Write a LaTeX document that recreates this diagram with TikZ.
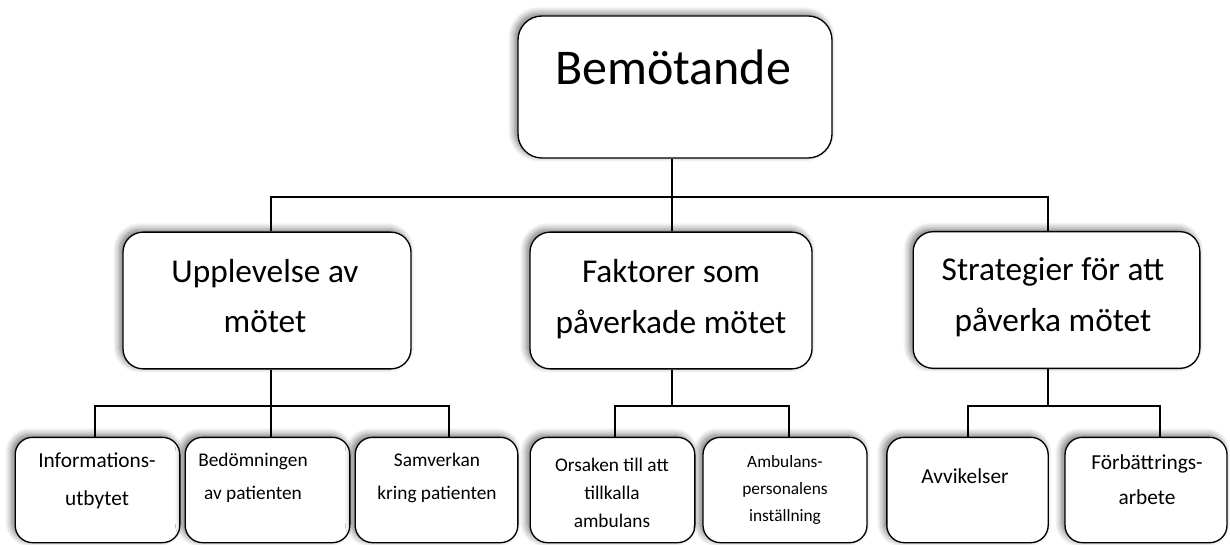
\documentclass[tikz,border=0pt]{standalone}
\usepackage{fontspec}
\setmainfont{Carlito}
\usetikzlibrary{shadows.blur}

\tikzset{
  box/.style={draw=black, line width=1pt, fill=white, inner sep=0pt,
    blur shadow={shadow xshift=-2.5pt, shadow yshift=2pt, shadow blur radius=5pt, shadow blur steps=8, shadow opacity=55}},
  topbox/.style={box, rounded corners=18pt, minimum width=235.5pt, minimum height=106.5pt},
  midbox/.style={box, rounded corners=15pt, minimum height=102.5pt},
  lowbox/.style={box, rounded corners=13pt, minimum height=79pt},
  link/.style={draw=black, line width=1.1pt},
}

\begin{document}
\begin{tikzpicture}[x=0.75pt,y=0.75pt,yscale=-1,xscale=1]
\useasboundingbox (0,0) rectangle (1230,545);

% Junctions of the connectors
\coordinate (j0) at (672,197);
\coordinate (j1) at (271,406);
\coordinate (j2) at (672,406);
\coordinate (j3) at (1048,406);

%Shape: Rounded Rect (top)
\node[topbox] (bem) at (675,87) {};
%Shape: Rounded Rect (level 2)
\node[midbox, minimum width=216pt] (upp) at (267,300.5) {};
\node[midbox, minimum width=211.5pt] (fak) at (671,300.5) {};
\node[midbox, minimum width=215pt] (str) at (1056.5,300) {};
%Shape: Rounded Rect (level 3)
\node[lowbox, minimum width=123.5pt] (info) at (97.5,490) {};
\node[lowbox, minimum width=123.5pt] (bed) at (267.5,490) {};
\node[lowbox, minimum width=122pt] (sam) at (436.5,490) {};
\node[lowbox, minimum width=123.5pt] (ors) at (612.5,490) {};
\node[lowbox, minimum width=123pt] (amb) at (785,490) {};
\node[lowbox, minimum width=121pt] (avv) at (967.5,490) {};
\node[lowbox, minimum width=121.5pt] (forb) at (1146,490) {};

%Straight Lines
\draw[link] (bem.south -| j0) -- (j0);
\draw[link] (upp.north -| j1) |- (j0) -| (str.north -| j3);
\draw[link] (j0) -- (j0 |- fak.north);
%Straight Lines
\draw[link] (upp.south -| j1) -- (j1);
\draw[link] (info.north -| 95,0) |- (j1) -| (sam.north -| 449,0);
\draw[link] (j1) -- (j1 |- bed.north);
%Straight Lines
\draw[link] (fak.south -| j2) -- (j2);
\draw[link] (ors.north -| 615,0) |- (j2) -| (amb.north -| 789,0);
%Straight Lines
\draw[link] (str.south -| j3) -- (j3);
\draw[link] (avv.north -| 968,0) |- (j3) -| (forb.north -| 1160,0);

% Text Node
\node[font=\fontsize{37.5}{45}\selectfont, anchor=base] (bemText) at (673,85) {Bemötande};
% Text Node
\node[font=\fontsize{25}{38}\selectfont, align=center] (uppText) at (265,296) {Upplevelse av\\mötet};
% Text Node
\node[font=\fontsize{25}{38}\selectfont, align=center] (fakText) at (671,299) {Faktorer som\\påverkade mötet};
% Text Node
\node[font=\fontsize{25}{38}\selectfont, align=center] (strText) at (1053,297) {Strategier för att\\påverka mötet};
% Text Node
\node[font=\fontsize{16}{28}\selectfont, align=center] (infoText) at (97,481) {Informations-\\utbytet};
% Text Node
\node[font=\fontsize{14.5}{25}\selectfont, align=center] (bedText) at (253,478) {Bedömningen\\av patienten};
% Text Node
\node[font=\fontsize{14.5}{25}\selectfont, align=center] (samText) at (437,478) {Samverkan\\kring patienten};
% Text Node
\node[font=\fontsize{14.5}{21}\selectfont, align=center] (orsText) at (612,493) {Orsaken till att\\tillkalla\\ambulans};
% Text Node
\node[font=\fontsize{13}{20}\selectfont, align=center] (ambText) at (785,490) {Ambulans-\\personalens\\inställning};
% Text Node
\node[font=\fontsize{16}{26}\selectfont, align=center] (avvText) at (965,476) {Avvikelser};
% Text Node
\node[font=\fontsize{16}{26}\selectfont, align=center] (forbText) at (1147,480) {Förbättrings-\\arbete};
\end{tikzpicture}
\end{document}
